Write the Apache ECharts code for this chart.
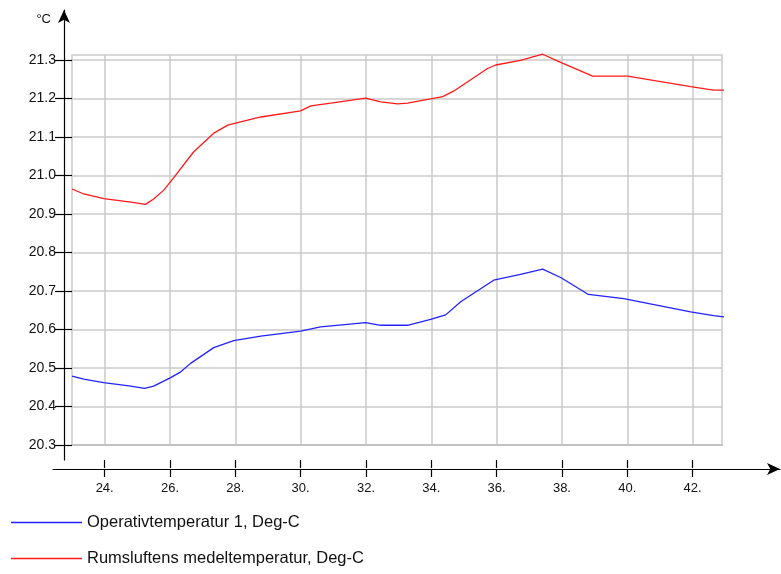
<!DOCTYPE html>
<html>
<head>
<meta charset="utf-8">
<script src="https://cdn.jsdelivr.net/npm/echarts@6/dist/echarts.min.js"></script>
<style>
html,body{margin:0;padding:0;background:#fff;}
#chart{width:781px;height:574px;}
</style>
</head>
<body>
<div id="chart"></div>
<script>
// ---- data ----
const seriesNames = ['Operativtemperatur 1, Deg-C', 'Rumsluftens medeltemperatur, Deg-C'];
const yUnit = '°C';
const xTicks = [24, 26, 28, 30, 32, 34, 36, 38, 40, 42];
const yTicks = [20.3, 20.4, 20.5, 20.6, 20.7, 20.8, 20.9, 21.0, 21.1, 21.2, 21.3];

const blueX = [23.0, 23.36, 23.97, 24.80, 25.22, 25.50, 26.02, 26.33, 26.63, 27.34, 27.95, 28.78, 30.00, 30.61, 31.99, 32.45, 33.27, 33.98, 34.44, 34.90, 35.91, 36.73, 37.41, 37.96, 38.81, 39.89, 41.94, 42.64, 43.07];
const blueY = [20.479, 20.471, 20.462, 20.453, 20.447, 20.453, 20.475, 20.490, 20.512, 20.553, 20.571, 20.583, 20.596, 20.607, 20.618, 20.611, 20.611, 20.626, 20.638, 20.672, 20.728, 20.743, 20.757, 20.735, 20.691, 20.680, 20.646, 20.636, 20.632];

const redX = [23.0, 23.36, 23.97, 24.80, 25.25, 25.50, 25.81, 26.11, 26.72, 27.34, 27.77, 28.16, 28.78, 30.00, 30.31, 30.92, 31.99, 32.45, 32.97, 33.27, 33.98, 34.35, 34.68, 35.72, 35.97, 36.73, 37.41, 37.96, 38.94, 40.01, 41.94, 42.64, 43.07];
const redY = [20.965, 20.952, 20.940, 20.931, 20.925, 20.939, 20.962, 20.994, 21.061, 21.110, 21.131, 21.139, 21.152, 21.168, 21.181, 21.188, 21.201, 21.191, 21.186, 21.188, 21.199, 21.205, 21.219, 21.278, 21.287, 21.299, 21.315, 21.294, 21.258, 21.258, 21.231, 21.222, 21.222];

// ---- layout ----
const FONT = 'Liberation Sans, Arial, sans-serif';
const plotL = 72, plotR = 722, plotT = 55, plotB = 445;
const xMin = 23, xMax = 42.9;
const yMin = 20.3, yMax = 21.313;
const pxPerX = (plotR - plotL) / (xMax - xMin);
const pxPerY = (plotB - plotT) / (yMax - yMin);

// outer y axis grid (line from y=10 to y=460 at x=64)
const yAxTop = 10, yAxBot = 460;
const yOutMax = yMax + (plotT - yAxTop) / pxPerY;
const yOutMin = yMin - (yAxBot - plotB) / pxPerY;
// outer x axis grid (line at y=469 from x=53 to the right edge)
const xAxL = 53, xAxR = 780;
const xOutMin = xMin - (plotL - xAxL) / pxPerX;
const xOutMax = xMin + (xAxR - plotL) / pxPerX;

const pairs = (xs, ys) => xs.map((x, i) => [x, ys[i]]);
const gridColor = '#cacaca';
const legendCommon = {
  orient: 'vertical', left: 6, icon: 'rect', itemWidth: 71, itemHeight: 1.5,
  textStyle: {fontSize: 16.5, color: '#111', fontFamily: FONT}
};

const chart = echarts.init(document.getElementById('chart'), null, {renderer: 'canvas'});
chart.setOption({
  animation: false,
  backgroundColor: '#ffffff',
  textStyle: {fontFamily: FONT},
  grid: [
    {left: plotL, top: plotT, width: plotR - plotL, height: plotB - plotT, show: true,
     borderColor: gridColor, borderWidth: 1.5, containLabel: false},
    {left: 64, top: yAxTop, width: 1, height: yAxBot - yAxTop, containLabel: false},
    {left: xAxL, top: 468, width: xAxR - xAxL, height: 1, containLabel: false}
  ],
  xAxis: [
    {gridIndex: 0, type: 'value', min: xMin, max: xMax,
     axisLine: {show: true, lineStyle: {color: '#c2c2c2', width: 2.2}}, axisLabel: {show: false},
     axisTick: {show: false, customValues: xTicks},
     splitLine: {show: true, lineStyle: {color: gridColor, width: 1.5}}},
    {gridIndex: 1, type: 'value', show: false, min: 0, max: 1},
    {gridIndex: 2, type: 'value', position: 'bottom', min: xOutMin, max: xOutMax,
     axisLine: {show: true, lineStyle: {color: '#000', width: 1.2}, symbol: ['none', 'arrow'], symbolSize: [9, 13]},
     axisTick: {show: true, customValues: xTicks, length: 8, inside: false, lineStyle: {color: '#000', width: 1.2}},
     axisLabel: {show: true, customValues: xTicks, formatter: v => v + '.', margin: 13,
                 color: '#111', fontSize: 13, fontFamily: FONT},
     splitLine: {show: false}},
    {gridIndex: 2, type: 'value', position: 'top', min: xOutMin, max: xOutMax,
     axisLine: {show: false},
     axisTick: {show: true, customValues: xTicks, length: 8, inside: false, lineStyle: {color: '#000', width: 1.2}},
     axisLabel: {show: false}, splitLine: {show: false}}
  ],
  yAxis: [
    {gridIndex: 0, type: 'value', min: yMin, max: yMax,
     axisLine: {show: false}, axisLabel: {show: false},
     axisTick: {show: false, customValues: yTicks},
     splitLine: {show: true, lineStyle: {color: gridColor, width: 1.5}}},
    {gridIndex: 1, type: 'value', position: 'left', min: yOutMin, max: yOutMax,
     name: yUnit, nameLocation: 'end', nameGap: -9,
     nameTextStyle: {align: 'right', verticalAlign: 'middle', padding: [0, 13, 0, 0], color: '#111', fontSize: 13, fontFamily: FONT},
     axisLine: {show: true, lineStyle: {color: '#000', width: 1.2}, symbol: ['none', 'arrow'], symbolSize: [9, 13]},
     axisTick: {show: true, customValues: yTicks, length: 9, inside: false, lineStyle: {color: '#000', width: 1.2}},
     axisLabel: {show: true, customValues: yTicks, formatter: v => v.toFixed(1), margin: 8,
                 color: '#111', fontSize: 14, fontFamily: FONT},
     splitLine: {show: false}},
    {gridIndex: 1, type: 'value', position: 'right', min: yOutMin, max: yOutMax,
     axisLine: {show: false},
     axisTick: {show: true, customValues: yTicks, length: 7, inside: false, lineStyle: {color: '#000', width: 1.2}},
     axisLabel: {show: false}, splitLine: {show: false}},
    {gridIndex: 2, type: 'value', show: false, min: 0, max: 1}
  ],
  legend: [
    Object.assign({top: 509, data: [seriesNames[0]]}, legendCommon),
    Object.assign({top: 545, data: [seriesNames[1]]}, legendCommon)
  ],
  series: [
    {name: seriesNames[0], type: 'line', xAxisIndex: 0, yAxisIndex: 0,
     data: pairs(blueX, blueY), showSymbol: false, symbol: 'none', clip: false,
     color: '#2222ff', lineStyle: {color: '#2222ff', width: 1.3}},
    {name: seriesNames[1], type: 'line', xAxisIndex: 0, yAxisIndex: 0,
     data: pairs(redX, redY), showSymbol: false, symbol: 'none', clip: false,
     color: '#ff1a1a', lineStyle: {color: '#ff1a1a', width: 1.3}}
  ]
});
</script>
</body>
</html>
